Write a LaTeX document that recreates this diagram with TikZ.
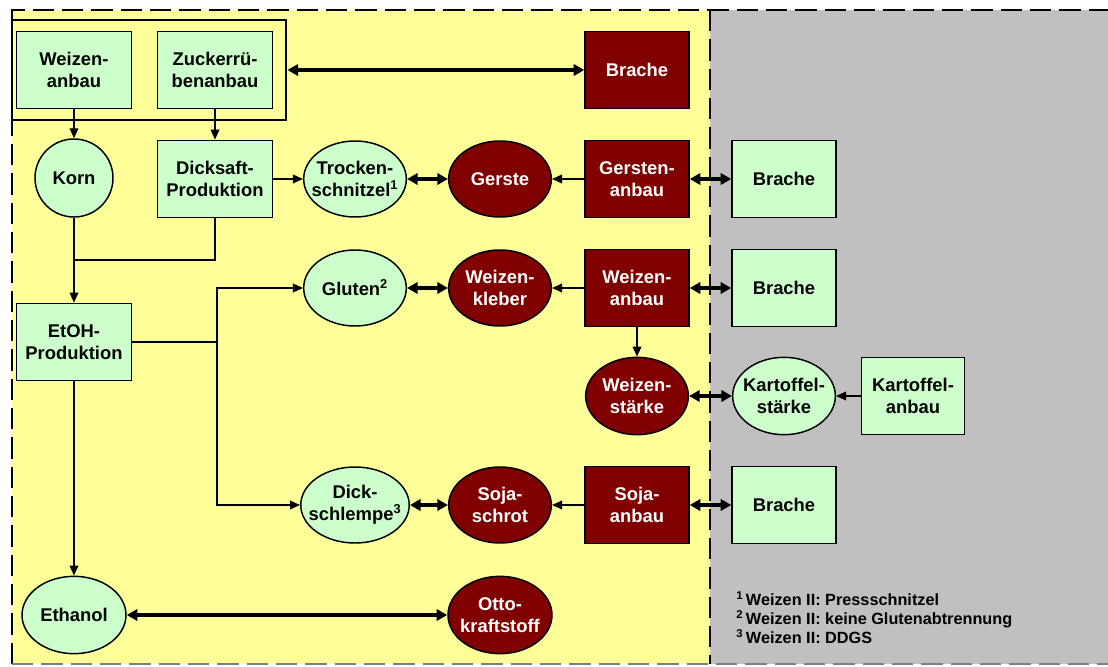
\documentclass[tikz,border=0pt]{standalone}
\usepackage{fontspec}
\setmainfont{Liberation Sans}
\usetikzlibrary{arrows.meta,shapes.geometric}
\definecolor{bgyellow}{HTML}{FFFF99}
\definecolor{bggray}{HTML}{C0C0C0}
\definecolor{lgreen}{HTML}{CCFFCC}
\definecolor{dred}{HTML}{800000}
\begin{document}
\begin{tikzpicture}[x=0.75pt,y=-0.75pt,
  every node/.style={font=\fontsize{13.8}{16.3}\selectfont\bfseries, align=center},
  gbox/.style={draw, line width=1.1pt, fill=lgreen, inner sep=0pt, minimum width=86pt, minimum height=58pt},
  gsmall/.style={draw, line width=1.1pt, fill=lgreen, inner sep=0pt, minimum width=78pt, minimum height=58pt},
  rbox/.style={draw, line width=1.1pt, fill=dred, text=white, inner sep=0pt, minimum width=78pt, minimum height=58pt},
  gell/.style={draw, ellipse, line width=1.1pt, fill=lgreen, inner xsep=-6pt, inner ysep=0pt, minimum width=77pt, minimum height=57pt},
  rell/.style={gell, fill=dred, text=white},
  frameline/.style={line width=1.6pt, dash pattern=on 16pt off 6pt},
  arr/.style={-{Triangle[length=7.5pt,width=6.5pt]}, line width=1.1pt},
  dbl/.style={{Triangle[length=8pt,width=8.5pt]}-{Triangle[length=8pt,width=8.5pt]}, line width=2.5pt},
  fn/.style={anchor=base west, font=\fontsize{12.2}{14.2}\selectfont\bfseries, inner sep=0pt}
]
\useasboundingbox (0,0) rectangle (1108,667);
% background areas
\fill[bgyellow] (12,10) rectangle (710,664);
\fill[bggray] (710,10) rectangle (1108,664);
\draw[frameline] (12,664) -- (12,10) -- (1108,10);
\draw[frameline] (710,10) -- (710,664);
\draw[line width=1.2pt, dash pattern=on 16pt off 6pt, gray] (12,664) -- (1108,664);

% top group
\node[gbox] (wa) at (74,70) {Weizen-\\anbau};
\node[gbox] (zr) at (215,70) {Zuckerrü-\\benanbau};
\node[draw, line width=2.2pt, minimum width=205.5pt, minimum height=75pt, inner sep=0pt] (grp) at (149,70) {};
\node[rbox] (brT) at (637,70) {Brache};

% left column
\node[draw, circle, line width=1.1pt, fill=lgreen, inner sep=0pt, minimum size=58.5pt] (korn) at (74,178) {Korn};
\node[gbox] (ds) at (215,179) {Dicksaft-\\Produktion};
\node[gbox] (etoh) at (74,342) {EtOH-\\Produktion};
\node[gell, minimum width=78pt, minimum height=58pt] (eth) at (74,615) {Ethanol};
\node[rell, minimum width=78pt, minimum height=58pt] (otto) at (500,615) {Otto-\\kraftstoff};

% row 1
\node[gell] (tro) at (355,179) {Trocken-\\schnitzel\textsuperscript{1}};
\node[rell] (ger) at (500,179) {Gerste};
\node[rbox] (gan) at (637,179) {Gersten-\\anbau};
\node[gsmall] (b1) at (784,179) {Brache};

% row 2
\node[gell] (glu) at (355,288) {Gluten\textsuperscript{2}};
\node[rell] (wkl) at (500,288) {Weizen-\\kleber};
\node[rbox] (wan) at (637,288) {Weizen-\\anbau};
\node[gsmall] (b2) at (784,288) {Brache};

% row 3
\node[rell, minimum height=58pt] (wst) at (637,396) {Weizen-\\stärke};
\node[gell, minimum height=58pt] (kst) at (784,396) {Kartoffel-\\stärke};
\node[gsmall, minimum width=77pt] (kan) at (913,396) {Kartoffel-\\anbau};

% row 4
\node[gell] (dsc) at (355,505) {Dick-\\schlempe\textsuperscript{3}};
\node[rell] (soj) at (500,505) {Soja-\\schrot};
\node[rbox] (san) at (637,505) {Soja-\\anbau};
\node[gsmall] (b4) at (784,505) {Brache};

% footnotes
\node[fn] (f1) at (736,605) {\textsuperscript{1}\,Weizen II: Pressschnitzel};
\node[fn] (f2) at (736,624) {\textsuperscript{2}\,Weizen II: keine Glutenabtrennung};
\node[fn] (f3) at (736,643) {\textsuperscript{3}\,Weizen II: DDGS};

% junctions
\coordinate (j1) at (74,260);
\coordinate (j2) at (217,342);

% thin arrows
\draw[arr] (wa.south) -- (korn.north);
\draw[arr] (zr.south) -- (ds.north);
\draw[arr] (ds.east) -- (tro.west);
\draw[line width=1.1pt] (ds.south) |- (j1);
\draw[arr] (korn.south) -- (etoh.north);
\draw[line width=1.1pt] (etoh.east) -- (j2);
\draw[arr] (j2) |- (glu.west);
\draw[arr] (j2) |- (dsc.west);
\draw[arr] (etoh.south) -- (eth.north);
\draw[arr] (gan.west) -- (ger.east);
\draw[arr] (wan.west) -- (wkl.east);
\draw[arr] (san.west) -- (soj.east);
\draw[arr] (wan.south) -- (wst.north);
\draw[arr] (kan.west) -- (kst.east);

% thick double arrows
\draw[dbl] (grp.east) -- (brT.west);
\draw[dbl] (tro.east) -- (ger.west);
\draw[dbl] (glu.east) -- (wkl.west);
\draw[dbl] (dsc.east) -- (soj.west);
\draw[dbl] (gan.east) -- (b1.west);
\draw[dbl] (wan.east) -- (b2.west);
\draw[dbl] (san.east) -- (b4.west);
\draw[dbl] (wst.east) -- (kst.west);
\draw[dbl] (eth.east) -- (otto.west);
\end{tikzpicture}
\end{document}
